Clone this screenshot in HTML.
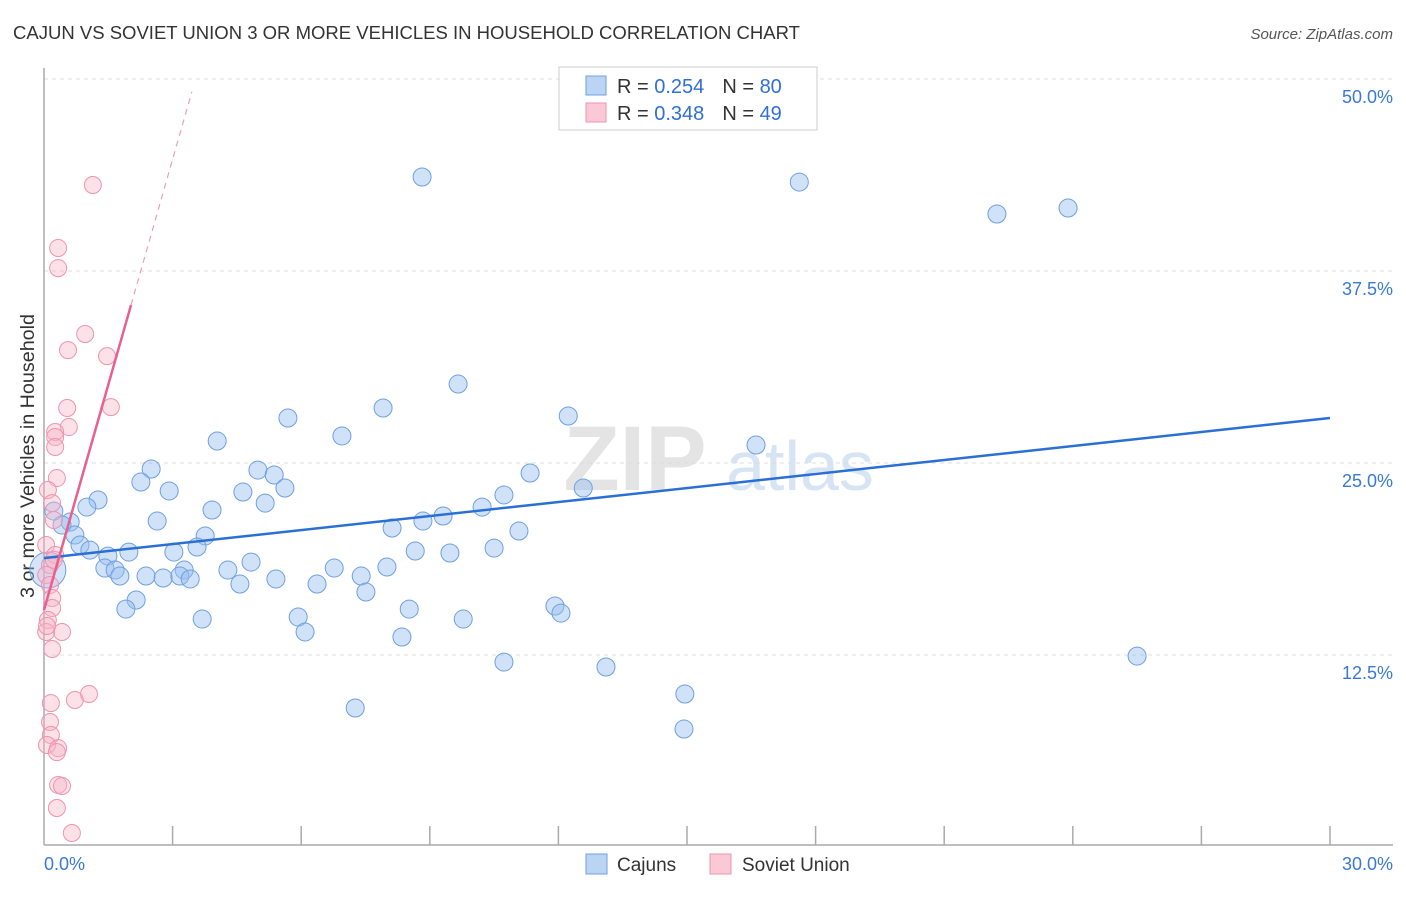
<!DOCTYPE html>
<html><head><meta charset="utf-8"><style>
body{margin:0;background:#fff;font-family:"Liberation Sans",sans-serif;}
svg text{font-family:"Liberation Sans",sans-serif;}
</style></head><body>
<svg id="chart" width="1406" height="892" xmlns="http://www.w3.org/2000/svg">
<text x="13" y="39" font-size="18.5" fill="#333" textLength="787" lengthAdjust="spacingAndGlyphs">CAJUN VS SOVIET UNION 3 OR MORE VEHICLES IN HOUSEHOLD CORRELATION CHART</text>
<text x="1393" y="39" font-size="15" fill="#555" font-style="italic" text-anchor="end">Source: ZipAtlas.com</text>
<text x="0" y="0" font-size="19" fill="#333" text-anchor="middle" textLength="284" lengthAdjust="spacingAndGlyphs" transform="translate(34,456) rotate(-90)">3 or more Vehicles in Household</text>
<g>
<text x="635" y="490" font-size="92" fill="#e4e4e4" font-family="Liberation Serif" text-anchor="middle" font-weight="bold">ZIP</text>
<text x="800" y="490" font-size="70" fill="#d6e4f4" text-anchor="middle">atlas</text>
</g>
<g id="grid"></g><g id="axes"></g><g id="marks"></g>
<g>
<rect x="559" y="67" width="258" height="63" fill="#fff" stroke="#ccc"/>
<rect x="586" y="76" width="20" height="19" fill="#bcd4f4" stroke="#6f9fe0"/>
<rect x="586" y="103" width="20" height="19" fill="#fbc8d6" stroke="#ee94b0"/>
<text x="617" y="93" font-size="20" fill="#333">R = <tspan fill="#2f6fd6">0.254</tspan><tspan dx="18">N = </tspan><tspan fill="#2f6fd6">80</tspan></text>
<text x="617" y="120" font-size="20" fill="#333">R = <tspan fill="#2f6fd6">0.348</tspan><tspan dx="18">N = </tspan><tspan fill="#2f6fd6">49</tspan></text>
</g>
<g>
<rect x="586" y="854" width="21" height="20" fill="#bcd4f4" stroke="#6f9fe0"/>
<text x="617" y="871" font-size="19" fill="#333">Cajuns</text>
<rect x="710" y="854" width="21" height="20" fill="#fbc8d6" stroke="#ee94b0"/>
<text x="742" y="871" font-size="19" fill="#333">Soviet Union</text>
</g>
</svg>
<script>
const yTicks=[12.5,25,37.5,50];
const yTickLabels=["12.5%","25.0%","37.5%","50.0%"];
const xEndLabels=["0.0%","30.0%"];
const cajunX=[8.82,17.62,22.23,23.89,9.66,7.91,12.23,5.69,6.95,4.04,16.61,2.50,4.99,5.37,11.34,2.26,2.92,4.64,5.62,12.58,1.26,10.73,5.16,1.00,3.92,10.22,0.23,2.64,9.31,8.84,0.61,8.12,11.08,0.42,3.76,0.72,0.84,3.57,1.07,8.66,9.47,10.50,3.03,1.98,1.49,4.83,1.42,4.29,6.77,8.00,3.27,1.66,1.77,2.38,2.78,3.17,7.40,3.41,5.41,6.37,4.57,7.51,2.15,1.91,8.52,11.92,12.06,5.93,3.69,9.78,6.09,8.35,10.73,13.11,25.50,14.95,7.26,14.93];
const cajunY=[43.62,43.29,41.21,41.60,30.14,28.58,28.06,27.93,26.76,26.43,26.17,24.61,24.54,24.22,24.35,23.76,23.18,23.11,23.37,23.37,22.59,22.92,22.39,22.13,21.94,22.13,21.87,21.22,21.55,21.22,21.16,20.77,20.57,20.96,20.25,20.31,19.66,19.53,19.33,19.27,19.14,19.46,19.20,19.20,18.94,18.55,18.16,18.03,18.16,18.23,18.03,18.03,17.64,17.64,17.51,17.64,17.64,17.45,17.45,17.12,17.12,16.60,16.08,15.49,15.49,15.69,15.23,14.97,14.84,14.84,14.00,13.67,12.04,11.72,12.43,9.96,9.05,7.68];
const sovietX=[1.14,0.33,0.33,0.96,0.56,1.47,0.54,1.56,0.58,0.26,0.26,0.26,0.30,0.09,0.19,0.23,0.05,0.26,0.14,0.05,0.14,0.19,0.19,0.09,0.42,0.05,0.07,0.19,0.16,0.72,1.05,0.14,0.16,0.07,0.33,0.30,0.33,0.42,0.30,0.65,0.23];
const sovietY=[43.10,39.00,37.69,33.40,32.35,31.96,28.58,28.64,27.34,27.02,26.69,26.04,24.02,23.24,22.39,21.29,19.66,19.01,18.36,17.71,17.06,16.21,15.56,14.78,14.00,14.00,14.39,12.89,9.37,9.57,9.96,8.14,7.29,6.64,6.44,6.18,4.04,3.97,2.54,0.91,18.7];
const cajunTrend=[18.81,27.93];
const sovietTrend=[15.43,9.78];
const NS="http://www.w3.org/2000/svg";
const X=v=>44+v/30*1286, Y=v=>847-v*15.36;
function mk(parent,tag,attrs){const e=document.createElementNS(NS,tag);for(const k in attrs)e.setAttribute(k,attrs[k]);parent.appendChild(e);return e;}
const grid=document.getElementById('grid'),axes=document.getElementById('axes'),marks=document.getElementById('marks');
yTicks.forEach((t,i)=>{
 const l=mk(grid,'line',{x1:44,x2:1393,y1:Y(t),y2:Y(t),stroke:'#ddd','stroke-dasharray':'4,4'});
 
 
 const tx=mk(axes,'text',{x:1393,y:Y(t)+24,'font-size':18,fill:'#3a78d8','text-anchor':'end'});
 tx.textContent=yTickLabels[i];
 
 
});
const ax=mk(axes,'line',{x1:44,x2:44,y1:68,y2:845,stroke:'#aaa','stroke-width':1.5});


const bx=mk(axes,'line',{x1:44,x2:1393,y1:845,y2:845,stroke:'#aaa','stroke-width':1.5});


for(let i=1;i<=10;i++){const t=mk(axes,'line',{x1:X(i*3),x2:X(i*3),y1:826,y2:845,stroke:'#aaa','stroke-width':1.5});
 
 }
const xl0=mk(axes,'text',{x:44,y:870,'font-size':18,fill:'#3a78d8'});xl0.textContent=xEndLabels[0];


const xl1=mk(axes,'text',{x:1393,y:870,'font-size':18,fill:'#3a78d8','text-anchor':'end'});xl1.textContent=xEndLabels[1];


cajunX.forEach((x,i)=>{const c=mk(marks,'circle',{cx:X(x),cy:Y(cajunY[i]),r:9,fill:'rgba(150,190,240,0.45)',stroke:'#6f9fe0','stroke-width':1});
 
 });
const big=mk(marks,'circle',{cx:X(0.09),cy:Y(18.03),r:18,fill:'rgba(150,190,240,0.4)',stroke:'#6f9fe0'});


sovietX.forEach((x,i)=>{const c=mk(marks,'circle',{cx:X(x),cy:Y(sovietY[i]),r:8.5,fill:'rgba(248,180,200,0.4)',stroke:'#ee94b0','stroke-width':1});
 
 });
const bt=mk(marks,'line',{x1:X(0),y1:Y(cajunTrend[0]),x2:X(30),y2:Y(cajunTrend[1]),stroke:'#2a6fd6','stroke-width':2.5});


const sEnd=2.03, sDash=3.45;
const st=mk(marks,'line',{x1:X(0),y1:Y(sovietTrend[0]),x2:X(sEnd),y2:Y(sovietTrend[0]+sovietTrend[1]*sEnd),stroke:'#e8608e','stroke-width':2.5});


const sd=mk(marks,'line',{x1:X(sEnd),y1:Y(sovietTrend[0]+sovietTrend[1]*sEnd),x2:X(sDash),y2:Y(sovietTrend[0]+sovietTrend[1]*sDash),stroke:'#eaa0b8','stroke-width':1.2,'stroke-dasharray':'6,5'});


</script>
</body></html>
